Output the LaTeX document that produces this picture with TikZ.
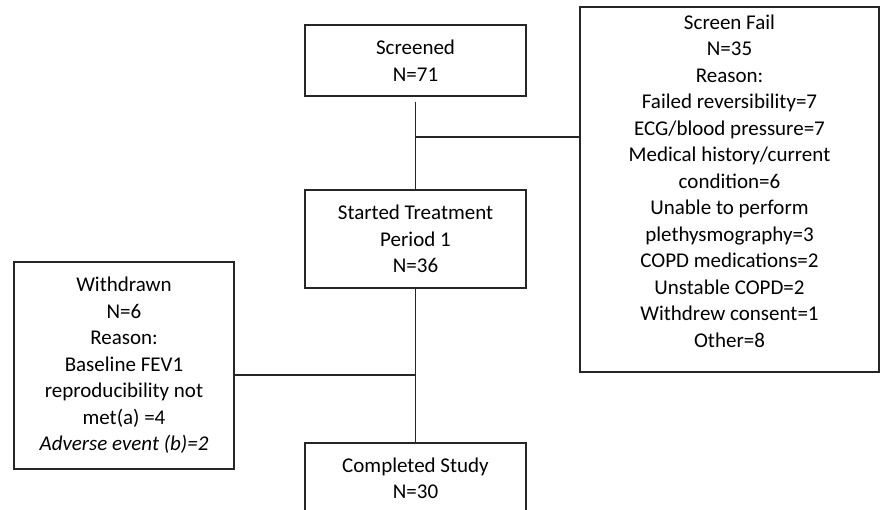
\documentclass[tikz,border=0pt]{standalone}
\usepackage{fontspec}
\setmainfont{Carlito}

\begin{document}
\begin{tikzpicture}
[x=1pt,y=-1pt,
  every node/.style={draw=black!85,line width=1.2pt,align=center,inner sep=0pt,%
    font=\fontsize{21}{26.5}\selectfont},
  lineDecorate/.style={-,line width=1.2pt,draw=black!85}]
\useasboundingbox (0,0) rectangle (881,510);
\node[minimum width=221pt,minimum height=71pt] (screened) at (415.5,60.5) {Screened\\N=71};
\node[minimum width=221pt,minimum height=98pt] (started) at (415.5,239)
  {Started Treatment\\Period 1\\N=36};
\node[minimum width=221pt,minimum height=71pt] (completed) at (415.5,478.5)
  {Completed Study\\N=30};
\node[minimum width=299pt,minimum height=365pt] (screenFail) at (729.5,189.5)
  {Screen Fail\\N=35\\Reason:\\Failed reversibility=7\\ECG/blood pressure=7\\%
   Medical history/current\\condition=6\\Unable to perform\\plethysmography=3\\%
   COPD medications=2\\Unstable COPD=2\\Withdrew consent=1\\Other=8\\[-9.5pt]\mbox{}};
\node[minimum width=220pt,minimum height=207pt] (withdrawn) at (124,365.5)
  {Withdrawn\\N=6\\Reason:\\Baseline FEV1\\reproducibility not\\met(a) =4\\%
   \itshape Adverse event (b)=2};
\coordinate (fail) at (415.5,137);
\coordinate (drop) at (415.5,375);
\path
\foreach \startNode/\endNode/\gap in {
  screened.south/started.north/5pt, started.south/completed.north/0pt,
  fail/fail -| screenFail.west/0pt, drop/drop -| withdrawn.east/0pt}
{
  (\startNode) edge[lineDecorate,shorten <=\gap] (\endNode)
};
\end{tikzpicture}
\end{document}
